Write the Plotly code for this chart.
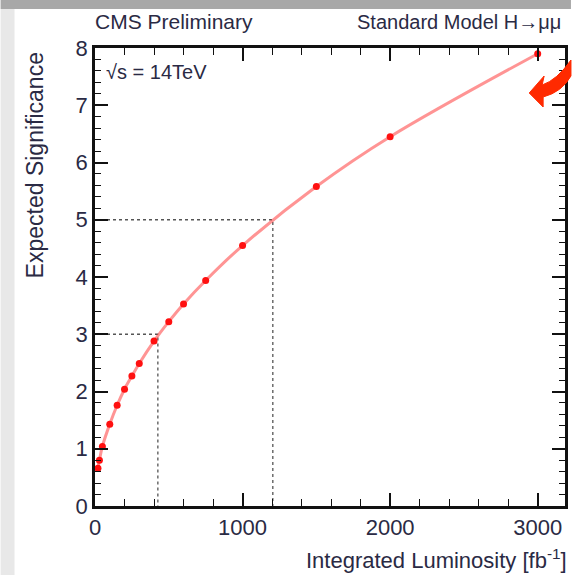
import plotly.graph_objects as go

luminosity = [20, 30, 50, 100, 150, 200, 250, 300, 400, 500, 600, 750, 1000, 1500, 2000, 3000]
significance = [0.66, 0.80, 1.04, 1.43, 1.76, 2.04, 2.27, 2.49, 2.88, 3.22, 3.53, 3.94, 4.55, 5.58, 6.45, 7.90]
lumi_3sigma = 426
lumi_5sigma = 1205

W, H = 574, 575
L, R, T, B = 95, 568, 48, 506

def px(x):
    return (x - L) / (R - L)

def py(y):
    return (B - y) / (B - T)

fig = go.Figure()

# reference dotted lines
for lum, sig in [(lumi_3sigma, 3), (lumi_5sigma, 5)]:
    fig.add_trace(go.Scatter(x=[0, lum, lum], y=[sig, sig, 0], mode="lines",
                             line=dict(color="#555555", width=1.3, dash="dot"),
                             hoverinfo="skip", showlegend=False))

fig.add_trace(go.Scatter(x=luminosity, y=significance, mode="lines",
                         line=dict(color="rgba(255,60,60,0.55)", width=3, shape="spline"),
                         showlegend=False))
fig.add_trace(go.Scatter(x=luminosity, y=significance, mode="markers",
                         marker=dict(color="#ff1010", size=7),
                         cliponaxis=False, showlegend=False))

FAMILY = "Liberation Sans, Arial, sans-serif"
TXT = "#2a2a44"
axis_font = dict(family=FAMILY, size=22, color=TXT)

fig.update_xaxes(range=[0, 3185], tickvals=[0, 1000, 2000, 3000], ticks="inside", ticklen=13,
                 tickwidth=1.5, tickcolor="#111", showline=True, linecolor="#111", linewidth=2.5,
                 mirror="ticks", showgrid=False, zeroline=False, tickfont=axis_font,
                 minor=dict(dtick=200, tick0=0, ticks="inside", ticklen=7, tickcolor="#111",
                            tickwidth=1.3, showgrid=False))
fig.update_yaxes(range=[0, 8], tickvals=list(range(0, 9)), ticks="inside", ticklen=13,
                 tickwidth=1.5, tickcolor="#111", showline=True, linecolor="#111", linewidth=2.5,
                 mirror="ticks", showgrid=False, zeroline=False, tickfont=axis_font,
                 minor=dict(dtick=0.2, tick0=0, ticks="inside", ticklen=6, tickcolor="#111",
                            tickwidth=1.3, showgrid=False))

annotations = [
    dict(text="CMS Preliminary", x=px(93), y=py(22), xanchor="left", yanchor="middle",
         font=dict(family=FAMILY, size=21, color=TXT)),
    dict(text="Standard Model H→μμ", x=px(566), y=py(22), xanchor="right", yanchor="middle",
         font=dict(family=FAMILY, size=20, color=TXT)),
    dict(text="√s = 14TeV", x=px(104), y=py(72), xanchor="left", yanchor="middle",
         font=dict(family=FAMILY, size=20, color=TXT)),
    dict(text="Expected Significance", x=px(35), y=py(50), xanchor="center", yanchor="top",
         textangle=-90, font=dict(family=FAMILY, size=23, color=TXT)),
    dict(text="Integrated Luminosity [fb<sup>-1</sup>]", x=px(572), y=py(559),
         xanchor="right", yanchor="middle", font=dict(family=FAMILY, size=22, color=TXT)),
]
for a in annotations:
    a.update(xref="paper", yref="paper", showarrow=False)

shapes = [
    # photo border bands
    dict(type="rect", x0=px(0), x1=px(574), y0=py(0), y1=py(9), fillcolor="#a8a8a8",
         line_width=0, layer="below"),
    dict(type="rect", x0=px(0), x1=px(14), y0=py(9), y1=py(575), fillcolor="#e8e8e8",
         line_width=0, layer="below"),
    # red curved arrow
    dict(type="path",
         path=(f"M {px(574)},{py(60)} Q {px(560)},{py(80)} {px(545)},{py(85)} "
               f"L {px(547)},{py(76)} L {px(532)},{py(93)} L {px(546)},{py(107)} "
               f"L {px(546)},{py(97)} Q {px(565)},{py(92)} {px(574)},{py(76)} Z"),
         fillcolor="#ff2a00", line=dict(color="#ff2a00", width=1), layer="above"),
]
for s in shapes:
    s.update(xref="paper", yref="paper")

fig.update_layout(width=W, height=H, margin=dict(l=L, r=W - R, t=T, b=H - B),
                  paper_bgcolor="white", plot_bgcolor="white",
                  annotations=annotations, shapes=shapes, showlegend=False)

fig.write_html("out.html", config={"displayModeBar": False},
               post_script="document.body.style.margin='0';document.body.style.overflow='hidden';")
